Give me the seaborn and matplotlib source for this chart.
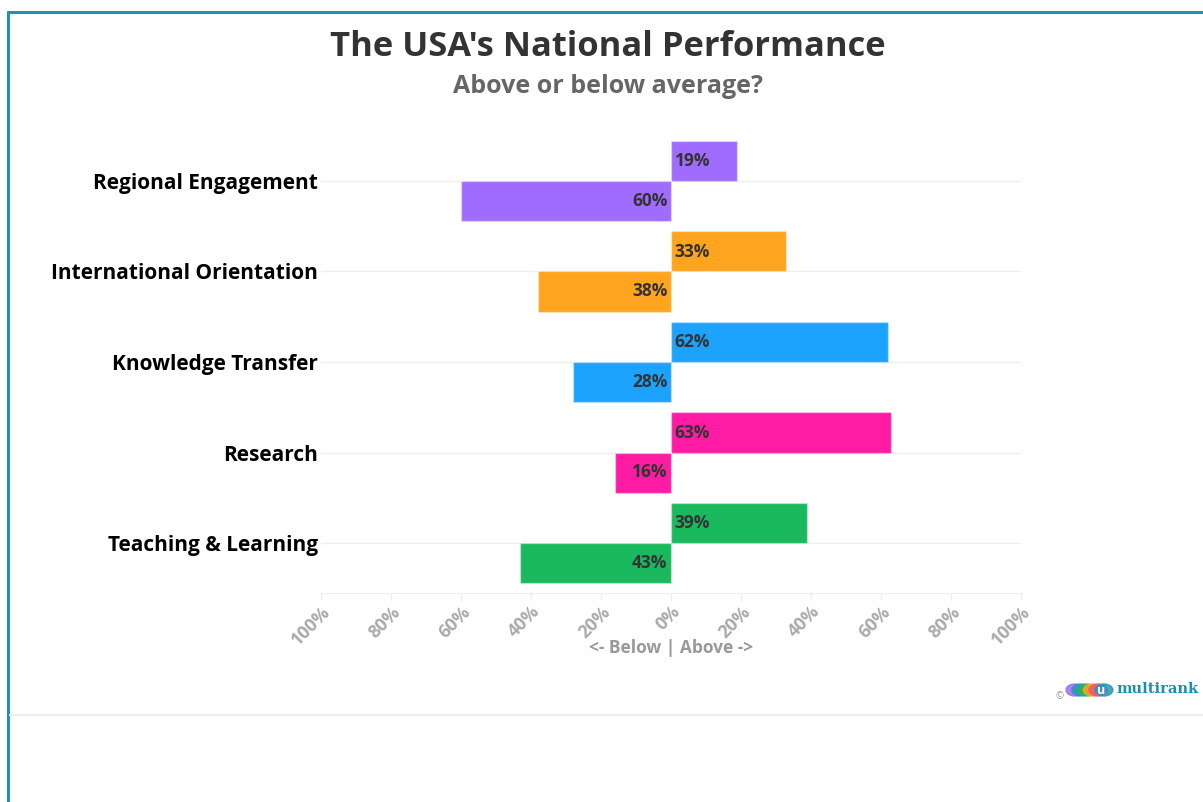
import pandas as pd
import matplotlib.pyplot as plt
import seaborn as sns
from matplotlib.patches import Circle
from matplotlib.lines import Line2D

# data
categories = ['Regional Engagement', 'International Orientation', 'Knowledge Transfer',
              'Research', 'Teaching & Learning']
above = [19, 33, 62, 63, 39]
below = [60, 38, 28, 16, 43]
colors = ['#a06cff', '#ffa41f', '#1ba3ff', '#ff1ca4', '#1bb95e']
tick_vals = [-100, -80, -60, -40, -20, 0, 20, 40, 60, 80, 100]
tick_labels = [f'{abs(v)}%' for v in tick_vals]

df = pd.DataFrame({
    'category': categories * 2,
    'side': ['Above'] * len(categories) + ['Below'] * len(categories),
    'value': above + [-v for v in below],
})

sns.set_style('white')
plt.rcParams['font.family'] = ['Open Sans', 'DejaVu Sans']

fig = plt.figure(figsize=(12.03, 8.02), dpi=100)
ax = fig.add_axes([0.2668, 0.2606, 0.5819, 0.5761])

sns.barplot(data=df, x='value', y='category', hue='side', hue_order=['Above', 'Below'],
            order=categories, orient='h', width=0.885, dodge=True, legend=False,
            errorbar=None, ax=ax, linewidth=1, edgecolor='white')

# recolour bars by category
for cont in ax.containers:
    for bar, c in zip(cont, colors):
        bar.set_facecolor(c)
        bar.set_edgecolor((1, 1, 1, 0.35))

# value labels next to zero
for i, cat in enumerate(categories):
    ax.text(1.0, i - 0.22, f'{above[i]}%', ha='left', va='center',
            fontsize=12.5, fontweight='bold', color='#333333')
    ax.text(-1.0, i + 0.22, f'{below[i]}%', ha='right', va='center',
            fontsize=12.5, fontweight='bold', color='#333333')

ax.set_xlim(-100, 100)
ax.set_ylim(4.552, -0.552)
ax.set_yticks(range(len(categories)))
ax.set_yticklabels(categories, fontsize=15, fontweight='bold', color='black')
ax.tick_params(axis='y', length=0, pad=2)
ax.set_xticks(tick_vals)
ax.set_xticklabels(tick_labels, rotation=45, ha='right', rotation_mode='anchor',
                   fontsize=13, fontweight='bold', color='#aaaaaa')
ax.tick_params(axis='x', length=5, color='#eeeeee', width=1, pad=2, bottom=True)
ax.set_xlabel('<- Below | Above ->', fontsize=12.5, fontweight='bold', color='#999999',
              labelpad=-7)
ax.set_ylabel('')

for i in range(len(categories)):
    ax.axhline(i, color='#eeeeee', lw=1, zorder=0)
for s in ['top', 'right', 'left']:
    ax.spines[s].set_visible(False)
ax.spines['bottom'].set_color('#eeeeee')
ax.set_axisbelow(True)

fig.text(0.5054, 0.941, "The USA's National Performance", ha='center', va='center',
         fontsize=24.8, fontweight='bold', color='#333333')
fig.text(0.5054, 0.892, 'Above or below average?', ha='center', va='center',
         fontsize=18, fontweight='bold', color='#666666')

# frame lines
fig.add_artist(Line2D([8 / 1203, 8 / 1203], [0, 1 - 12 / 802], color='#2490b8', lw=2.2))
fig.add_artist(Line2D([8 / 1203, 1], [1 - 12 / 802, 1 - 12 / 802], color='#2490b8', lw=2.2))
fig.add_artist(Line2D([10 / 1203, 1], [1 - 715 / 802, 1 - 715 / 802], color='#eeeeee', lw=1.5))

# logo
fig.text(1060 / 1203, 1 - 697 / 802, '©', ha='center', va='center', fontsize=7, color='#999999')
for k, c in enumerate(['#a06cff', '#2a95b8', '#1bb95e', '#ffa41f', '#ff4f6d', '#2a95b8']):
    fig.add_artist(Circle((1075 / 1203 + k * 0.0048, 1 - 690 / 802), 0.0075,
                          transform=fig.transFigure, color=c, alpha=0.85))
fig.text(1101 / 1203, 1 - 690 / 802, 'u', ha='center', va='center', fontsize=9,
         color='white', fontweight='bold')
fig.text(1116 / 1203, 1 - 689 / 802, 'multirank', ha='left', va='center', fontsize=10.5,
         fontweight='bold', color='#1a8fb0', family='DejaVu Serif')

fig.savefig('out.png', dpi=100)
